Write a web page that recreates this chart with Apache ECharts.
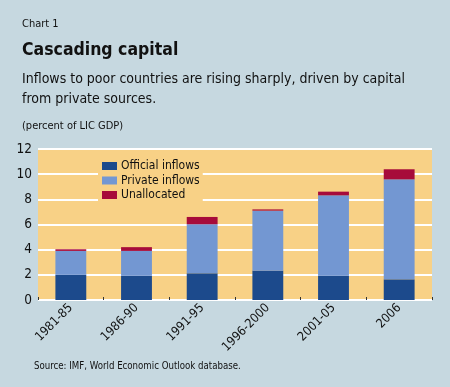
<!DOCTYPE html>
<html><head><meta charset="utf-8">
<script src="https://cdn.jsdelivr.net/npm/echarts@6/dist/echarts.min.js"></script>
<style>html,body{margin:0;padding:0;background:#c6d8e0}#c{width:450px;height:387px}</style>
</head><body><div id="c"></div>
<script>
const categories = ['1981-85','1986-90','1991-95','1996-2000','2001-05','2006'];
const officialInflows = [2.0, 1.93, 2.12, 2.33, 1.93, 1.64];
const privateInflows = [1.9, 1.97, 3.9, 4.77, 6.39, 7.95];
const unallocated = [0.13, 0.3, 0.58, 0.1, 0.29, 0.8];
const yTicks = [0, 2, 4, 6, 8, 10, 12];

const FONT = '"DejaVu Sans Condensed", "Liberation Sans Narrow", "Liberation Sans", sans-serif';
const chart = echarts.init(document.getElementById('c'));
chart.setOption({
  backgroundColor: '#c6d8e0',
  animation: false,
  textStyle: { fontFamily: FONT },
  title: [
    { text: 'Chart 1', left: 17, top: 14, textStyle: { fontFamily: FONT, fontSize: 11, fontWeight: 'normal', color: '#111' } },
    { text: 'Cascading capital', left: 17, top: 36, textStyle: { fontFamily: FONT, fontSize: 17.5, fontWeight: 'bold', color: '#111' } },
    { text: 'Inflows to poor countries are rising sharply, driven by capital\nfrom private sources.', left: 17, top: 64, textStyle: { fontFamily: FONT, fontSize: 14, fontWeight: 'normal', color: '#111', lineHeight: 20.5 } },
    { text: '(percent of LIC GDP)', left: 17, top: 116, textStyle: { fontFamily: FONT, fontSize: 11, fontWeight: 'normal', color: '#111' } },
    { text: 'Source: IMF, World Economic Outlook database.', left: 29, top: 356, textStyle: { fontFamily: FONT, fontSize: 9.6, fontWeight: 'normal', color: '#111' } }
  ],
  legend: {
    data: ['Official inflows', 'Private inflows', 'Unallocated'],
    orient: 'vertical',
    icon: 'rect',
    left: 98, top: 158,
    itemWidth: 15, itemHeight: 8, itemGap: 0.5,
    padding: [1, 3, 1, 4],
    backgroundColor: '#f8d186',
    textStyle: { fontFamily: FONT, fontSize: 12, lineHeight: 14, color: '#111', padding: [0, 0, 0, -1] }
  },
  grid: { left: 38, right: 18, top: 149, bottom: 87, show: true, backgroundColor: '#f8d186', borderWidth: 0 },
  xAxis: {
    type: 'category', data: categories,
    axisLine: { show: false },
    axisTick: { show: true, inside: true, length: 3, lineStyle: { color: '#333' } },
    axisLabel: { rotate: 45, fontFamily: FONT, fontSize: 12.5, color: '#111', margin: 6 }
  },
  yAxis: {
    type: 'value', min: yTicks[0], max: yTicks[yTicks.length - 1], interval: 2,
    axisLine: { show: false }, axisTick: { show: false },
    axisLabel: { fontFamily: FONT, fontSize: 13.5, color: '#111', margin: 6 },
    splitLine: { lineStyle: { color: '#ffffff', width: 2 } }
  },
  series: [
    { name: 'Official inflows', type: 'bar', stack: 't', data: officialInflows, barWidth: '47%', itemStyle: { color: '#1c4a8c' } },
    { name: 'Private inflows', type: 'bar', stack: 't', data: privateInflows, itemStyle: { color: '#7397d2' } },
    { name: 'Unallocated', type: 'bar', stack: 't', data: unallocated, itemStyle: { color: '#a70b3a' } }
  ]
});
</script></body></html>
